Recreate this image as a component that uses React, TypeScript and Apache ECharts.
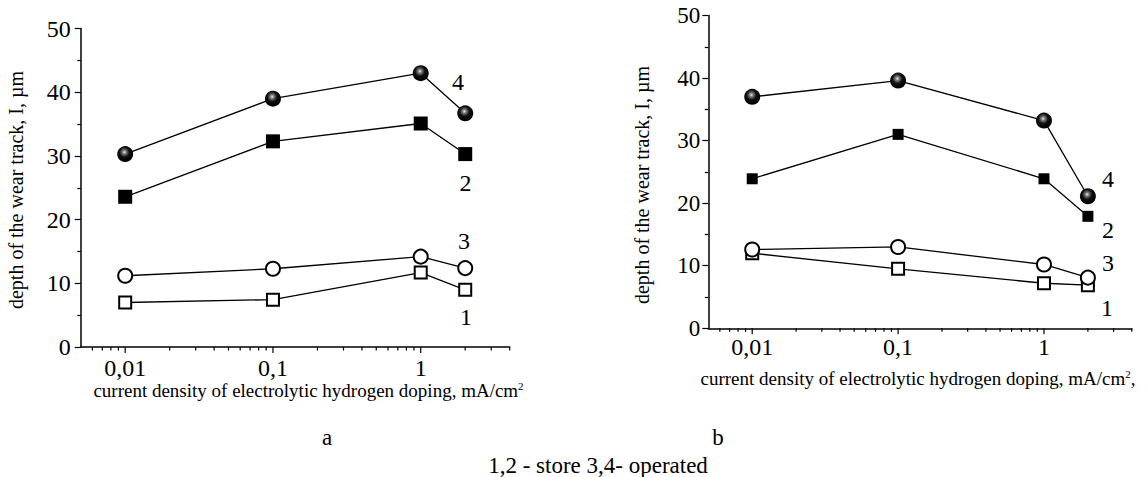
import React, { useEffect, useRef } from "react";
import * as echarts from "echarts";

// ---- data ----
const xValues = [0.01, 0.1, 1, 2];
const xTickLabels: Record<string, string> = { "0.01": "0,01", "0.1": "0,1", "1": "1" };
const xMajorTicks = [0.01, 0.1, 1];
const xMinorTicks = [
  0.006, 0.007, 0.008, 0.009,
  0.02, 0.03, 0.04, 0.05, 0.06, 0.07, 0.08, 0.09,
  0.2, 0.3, 0.4, 0.5, 0.6, 0.7, 0.8, 0.9,
  2, 3, 4,
];
const seriesNames = ["1", "2", "3", "4"];

// panel a
const aS1 = [7.0, 7.45, 11.7, 9.0];
const aS2 = [23.6, 32.3, 35.1, 30.3];
const aS3 = [11.2, 12.3, 14.2, 12.4];
const aS4 = [30.3, 39.0, 43.0, 36.7];

// panel b
const bS1 = [12.0, 9.5, 7.2, 6.9];
const bS2 = [23.9, 31.0, 23.9, 17.9];
const bS3 = [12.6, 13.0, 10.2, 8.1];
const bS4 = [37.0, 39.6, 33.2, 21.1];

const FONT = "Liberation Serif";

const ballColor = new echarts.graphic.RadialGradient(0.45, 0.38, 0.55, [
  { offset: 0, color: "#f0f0f0" },
  { offset: 0.18, color: "#8a8a8a" },
  { offset: 0.55, color: "#111" },
  { offset: 1, color: "#000" },
]);

function pts(vals: number[]) {
  return xValues.map((x, i) => [x, vals[i]]);
}

function lineSeries(idx: number, vals: number[], kind: number, sqSize: number) {
  const base: any = {
    type: "line",
    xAxisIndex: idx,
    yAxisIndex: idx,
    data: pts(vals),
    lineStyle: { color: "#000", width: 1.3 },
    z: 3,
  };
  if (kind === 1) {
    base.symbol = "rect";
    base.symbolSize = 12;
    base.itemStyle = { color: "#fff", borderColor: "#000", borderWidth: 2 };
  } else if (kind === 2) {
    base.symbol = "rect";
    base.symbolSize = sqSize;
    base.itemStyle = { color: "#000", borderColor: "#000", borderWidth: 0 };
  } else if (kind === 3) {
    base.symbol = "circle";
    base.symbolSize = 14;
    base.itemStyle = { color: "#fff", borderColor: "#000", borderWidth: 2 };
  } else {
    base.symbol = "circle";
    base.symbolSize = 16;
    base.itemStyle = { color: ballColor, borderWidth: 0 };
  }
  base.showAllSymbol = true;
  return base;
}

function tickSeries(idx: number, values: number[], len: number) {
  return {
    type: "custom",
    xAxisIndex: idx,
    yAxisIndex: idx,
    silent: true,
    clip: false,
    z: 2,
    data: values.map((v) => [v, 0]),
    renderItem: (params: any, api: any) => {
      const p = api.coord([api.value(0), 0]);
      return {
        type: "line",
        shape: { x1: p[0], y1: p[1], x2: p[0], y2: p[1] + len },
        style: { stroke: "#000", lineWidth: 1.2 },
      };
    },
  };
}

function xAxisCfg(idx: number, fontSize: number, margin: number) {
  return {
    type: "log",
    gridIndex: idx,
    min: 0.005,
    max: 4,
    logBase: 10,
    axisLine: { show: true, lineStyle: { color: "#000", width: 1.5 } },
    axisTick: { show: false },
    splitLine: { show: false },
    minorTick: { show: false },
    axisLabel: {
      color: "#000",
      fontFamily: FONT,
      fontSize,
      margin,
      showMinLabel: true,
      showMaxLabel: true,
      formatter: (v: number) => {
        const key = String(Number(v.toPrecision(6)));
        return xTickLabels[key] !== undefined ? xTickLabels[key] : "";
      },
    },
  };
}

function yAxisCfg(idx: number, fontSize: number, margin: number) {
  return {
    type: "value",
    gridIndex: idx,
    min: 0,
    max: 50,
    interval: 10,
    axisLine: { show: true, lineStyle: { color: "#000", width: 1.5 } },
    axisTick: { show: true, length: 6, lineStyle: { color: "#000", width: 1.2 } },
    minorTick: { show: true, splitNumber: 2, length: 3.5, lineStyle: { color: "#000", width: 1.2 } },
    splitLine: { show: false },
    minorSplitLine: { show: false },
    axisLabel: { color: "#000", fontFamily: FONT, fontSize, margin },
  };
}

function txt(text: string, x: number, y: number, fontSize: number, extra: any = {}) {
  return {
    type: "text",
    x,
    y,
    silent: true,
    ...extra,
    style: {
      text,
      fontFamily: FONT,
      fontSize,
      fill: "#000",
      align: "center",
      verticalAlign: "middle",
      ...(extra.style || {}),
    },
  };
}

export default function App() {
  const ref = useRef<HTMLDivElement>(null);
  useEffect(() => {
    document.body.style.margin = "0";
    const chart = echarts.init(ref.current!, null, { renderer: "svg" });
    const supRich = { sup: { fontSize: 11, verticalAlign: "top", fontFamily: FONT } };
    chart.setOption({
      animation: false,
      backgroundColor: "#fff",
      textStyle: { fontFamily: FONT },
      grid: [
        { left: 80.7, top: 28.6, width: 429, height: 318.5 },
        { left: 708.3, top: 15.5, width: 423.5, height: 312.8 },
      ],
      xAxis: [xAxisCfg(0, 24, 9), xAxisCfg(1, 24, 7)],
      yAxis: [yAxisCfg(0, 24, 10), yAxisCfg(1, 23, 8)],
      series: [
        tickSeries(0, xMajorTicks, 6),
        tickSeries(0, xMinorTicks, 3.5),
        tickSeries(1, xMajorTicks, 6),
        tickSeries(1, xMinorTicks, 3.5),
        lineSeries(0, aS1, 1, 14),
        lineSeries(0, aS3, 3, 14),
        lineSeries(0, aS2, 2, 14),
        lineSeries(0, aS4, 4, 14),
        lineSeries(1, bS1, 1, 11),
        lineSeries(1, bS3, 3, 11),
        lineSeries(1, bS2, 2, 11),
        lineSeries(1, bS4, 4, 11),
      ],
      graphic: [
        // axis names
        txt("depth of the wear track, I, \u00b5m", 16, 190, 20, { rotation: Math.PI / 2 }),
        txt("depth of the wear track, I, \u00b5m", 642, 185, 20, { rotation: Math.PI / 2 }),
        {
          type: "text",
          x: 308.5,
          y: 390,
          silent: true,
          style: {
            text: "current density of electrolytic hydrogen doping, mA/cm{sup|2}",
            rich: supRich,
            fontFamily: FONT,
            fontSize: 19,
            fill: "#000",
            align: "center",
            verticalAlign: "middle",
          },
        },
        {
          type: "text",
          x: 918,
          y: 378,
          silent: true,
          style: {
            text: "current density of electrolytic hydrogen doping, mA/cm{sup|2},",
            rich: supRich,
            fontFamily: FONT,
            fontSize: 19,
            fill: "#000",
            align: "center",
            verticalAlign: "middle",
          },
        },
        // series labels panel a
        txt(seriesNames[3], 458, 81.5, 24),
        txt(seriesNames[1], 465.5, 182.5, 24),
        txt(seriesNames[2], 464, 241, 24),
        txt(seriesNames[0], 466, 316.5, 24),
        // series labels panel b
        txt(seriesNames[3], 1108, 178.5, 24),
        txt(seriesNames[1], 1108, 230, 24),
        txt(seriesNames[2], 1108, 263, 24),
        txt(seriesNames[0], 1107, 308, 24),
        // panel letters and caption
        txt("a", 327, 437, 23),
        txt("b", 718, 437, 23),
        txt("1,2 - store 3,4- operated", 598, 465, 23),
      ],
    });
    return () => chart.dispose();
  }, []);
  return <div ref={ref} style={{ width: 1148, height: 477, background: "#fff" }} />;
}
